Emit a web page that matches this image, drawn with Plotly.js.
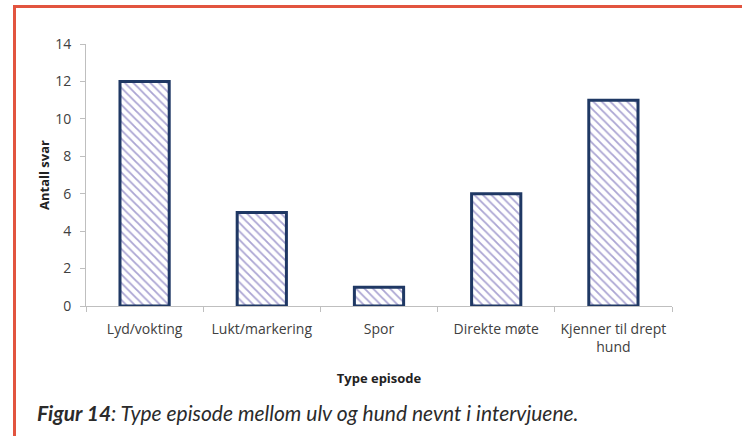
<!DOCTYPE html>
<html>
<head>
<meta charset="utf-8">
<script src="https://cdn.plot.ly/plotly-3.0.1.min.js"></script>
<style>
  body { margin: 0; background: #fff; }
  #wrap { position: relative; width: 742px; height: 436px; }
  #chart { position: absolute; left: 0; top: 0; width: 742px; height: 436px; }
  #frame {
    position: absolute; left: 13px; top: 5px; width: 729px; height: 431px;
    border-top: 3px solid #e2543f; border-left: 3px solid #e2543f;
    box-sizing: border-box; pointer-events: none;
  }
</style>
</head>
<body>
<div id="wrap">
  <div id="chart"></div>
  <div id="frame"></div>
</div>
<script>
// Type episode mellom ulv og hund
const categories = ['Lyd/vokting', 'Lukt/markering', 'Spor', 'Direkte møte', 'Kjenner til drept<br>hund'];
const antallSvar = [12, 5, 1, 6, 11];
const yTicks = [0, 2, 4, 6, 8, 10, 12, 14];

const data = [{
  type: 'bar',
  x: categories,
  y: antallSvar,
  marker: {
    color: '#ffffff',
    line: { color: '#1f3864', width: 3 },
    pattern: { shape: '\\', fgcolor: '#aba5d3', bgcolor: '#ffffff', size: 6, solidity: 0.3 },
  },
  hoverinfo: 'x+y',
}];

const tickFont = { family: 'Open Sans, sans-serif', size: 14, color: '#404040' };

const layout = {
  width: 742,
  height: 436,
  margin: { l: 86, r: 70, t: 44, b: 130 },
  paper_bgcolor: '#ffffff',
  plot_bgcolor: '#ffffff',
  showlegend: false,
  bargap: 0.58,
  font: { family: 'Open Sans, sans-serif' },
  xaxis: {
    type: 'category',
    tickson: 'boundaries',
    ticks: 'outside',
    ticklen: 5,
    tickcolor: '#bfbfbf',
    showline: true,
    linecolor: '#bfbfbf',
    linewidth: 1,
    tickfont: tickFont,
    ticklabelstandoff: 10,
    title: { text: '<b>Type episode</b>', font: { family: 'Open Sans, sans-serif', size: 13, color: '#222' }, standoff: 18 },
  },
  yaxis: {
    range: [0, 14],
    tickvals: yTicks,
    ticks: 'outside',
    ticklen: 5,
    tickcolor: '#bfbfbf',
    showline: true,
    linecolor: '#bfbfbf',
    linewidth: 1,
    showgrid: false,
    zeroline: false,
    tickfont: tickFont,
    ticklabelstandoff: 6,
    title: { text: '<b>Antall svar</b>', font: { family: 'Open Sans, sans-serif', size: 13, color: '#222' }, standoff: 2 },
  },
  annotations: [{
    xref: 'paper', yref: 'paper',
    x: -0.087, y: -0.405,
    xanchor: 'left', yanchor: 'middle',
    showarrow: false,
    text: '<b><i>Figur 14</i></b><i>: Type episode mellom ulv og hund nevnt i intervjuene.</i>',
    font: { family: 'Lato, sans-serif', size: 21, color: '#2b2b2b' },
  }],
};

Plotly.newPlot('chart', data, layout, { displayModeBar: false, staticPlot: true });
</script>
</body>
</html>
